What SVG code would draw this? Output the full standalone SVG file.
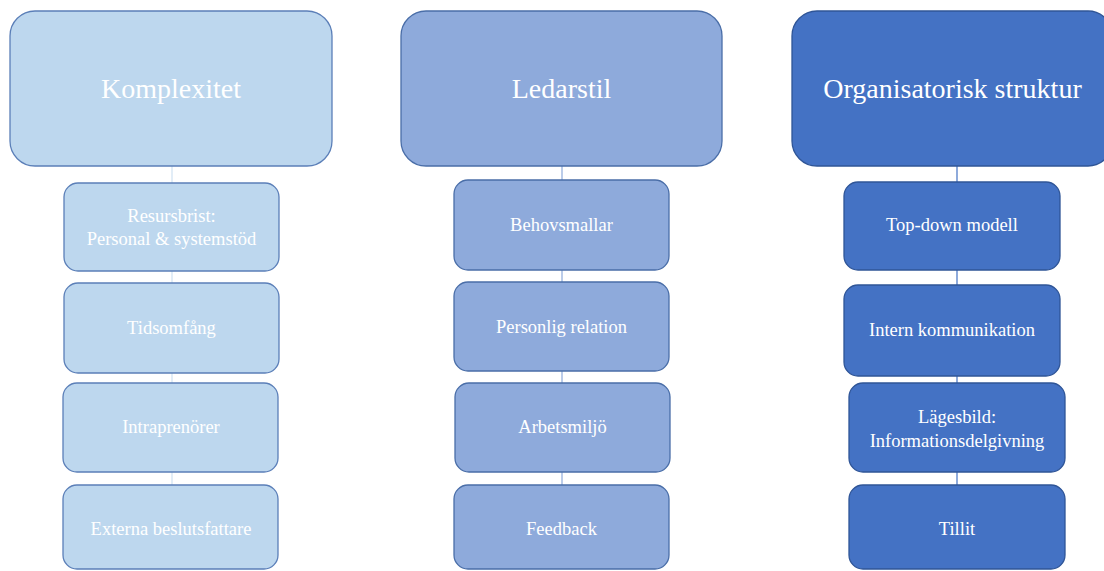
<svg xmlns="http://www.w3.org/2000/svg" width="1104" height="571" viewBox="0 0 1104 571">
<style>
text{font-family:"Liberation Serif","Times New Roman",serif;fill:#ffffff;text-anchor:middle}
.t{font-size:28px}
.s{font-size:18.5px}
.c1{fill:#bdd7ee;stroke:#5b7fb8;stroke-width:1.3}
.c2{fill:#8eaadb;stroke:#4a6ea8;stroke-width:1.3}
.c3{fill:#4472c4;stroke:#2f5597;stroke-width:1.3}
.ln{stroke-width:1.2;fill:none}
</style>
<rect width="1104" height="571" fill="#ffffff"/>
<g id="connectors">
<line class="ln" x1="172" y1="166" x2="172" y2="486" stroke="#cfe1f2"/>
<line class="ln" x1="562" y1="166" x2="562" y2="486" stroke="#8eaadb"/>
<line class="ln" x1="957" y1="166" x2="957" y2="486" stroke="#4472c4"/>
</g>
<g id="komplexitet"><rect class="c1" x="10" y="11" width="322" height="155" rx="25"/><text class="t" x="171" y="98">Komplexitet</text></g>
<g id="resursbrist"><rect class="c1" x="64" y="183" width="215" height="88" rx="14"/><text class="s" x="171.5" y="222">Resursbrist:</text><text class="s" x="171.5" y="245">Personal &amp; systemstöd</text></g>
<g id="tidsomfang"><rect class="c1" x="64" y="283" width="215" height="90" rx="14"/><text class="s" x="171.5" y="334">Tidsomfång</text></g>
<g id="intraprenorer"><rect class="c1" x="63" y="383" width="215" height="89" rx="14"/><text class="s" x="171" y="433">Intraprenörer</text></g>
<g id="externa"><rect class="c1" x="63" y="485" width="215" height="84" rx="14"/><text class="s" x="171" y="535">Externa beslutsfattare</text></g>
<g id="ledarstil"><rect class="c2" x="401" y="11" width="321" height="155" rx="25"/><text class="t" x="561.5" y="98">Ledarstil</text></g>
<g id="behovsmallar"><rect class="c2" x="454" y="180" width="215" height="90" rx="14"/><text class="s" x="561.5" y="231">Behovsmallar</text></g>
<g id="personlig"><rect class="c2" x="454" y="282" width="215" height="89" rx="14"/><text class="s" x="561.5" y="333">Personlig relation</text></g>
<g id="arbetsmiljo"><rect class="c2" x="455" y="383" width="215" height="89" rx="14"/><text class="s" x="562.5" y="433">Arbetsmiljö</text></g>
<g id="feedback"><rect class="c2" x="454" y="485" width="215" height="84" rx="14"/><text class="s" x="561.5" y="535">Feedback</text></g>
<g id="organisatorisk"><rect class="c3" x="792" y="11" width="321" height="155" rx="25"/><text class="t" x="952.5" y="98">Organisatorisk struktur</text></g>
<g id="topdown"><rect class="c3" x="844" y="182" width="216" height="88" rx="14"/><text class="s" x="952" y="231">Top-down modell</text></g>
<g id="intern"><rect class="c3" x="844" y="285" width="216" height="91" rx="14"/><text class="s" x="952" y="336">Intern kommunikation</text></g>
<g id="lagesbild"><rect class="c3" x="849" y="383" width="216" height="89" rx="14"/><text class="s" x="957" y="423">Lägesbild:</text><text class="s" x="957" y="447">Informationsdelgivning</text></g>
<g id="tillit"><rect class="c3" x="849" y="485" width="216" height="84" rx="14"/><text class="s" x="957" y="535">Tillit</text></g>
</svg>
